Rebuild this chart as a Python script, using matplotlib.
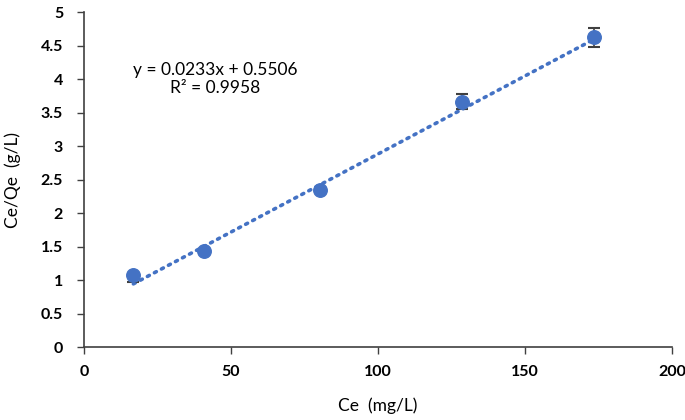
import numpy as np
import matplotlib
matplotlib.use('Agg')
import matplotlib.pyplot as plt

plt.rcParams['font.family'] = ['Lato', 'DejaVu Sans']

ce = [16.8, 40.9, 80.3, 128.6, 173.5]
ce_qe = [1.07, 1.43, 2.35, 3.66, 4.62]
err_low = [0.10, 0.03, 0.03, 0.11, 0.137]
err_high = [0.04, 0.03, 0.03, 0.11, 0.137]
slope = 0.0233
intercept = 0.5506
r2 = 0.9958

blue = '#4472C4'

fig = plt.figure(figsize=(6.85, 4.2), dpi=100)
ax = fig.add_axes([0.1226, 0.1738, 0.8584, 0.7976])

xs = np.array([min(ce), max(ce)])
ax.plot(xs, slope * xs + intercept, color=blue, linestyle=(0, (0.6, 1.6)),
        linewidth=2.6, dash_capstyle='round', zorder=2)
ax.errorbar(ce, ce_qe, yerr=[err_low, err_high], fmt='none', ecolor='#404040',
            elinewidth=1.2, capsize=4, capthick=1.5, zorder=3)
ax.scatter(ce, ce_qe, s=95, color=blue, zorder=4)

ax.text(44.6, 4.0, 'y = 0.0233x + 0.5506\nR² = 0.9958', ha='center', va='center',
        fontsize=12.5, multialignment='center', linespacing=1.15)

ax.set_xlim(0, 200)
ax.set_ylim(0, 5)
ax.set_xticks([0, 50, 100, 150, 200])
ax.set_yticks(np.arange(0, 5.01, 0.5))
ax.set_yticklabels(['0', '0.5', '1', '1.5', '2', '2.5', '3', '3.5', '4', '4.5', '5'])
for lab in ax.get_xticklabels() + ax.get_yticklabels():
    lab.set_fontweight('bold')
    lab.set_fontsize(11.5)
ax.tick_params(direction='out', length=5, width=1, color='#404040')
ax.tick_params(axis='y', pad=10)
ax.tick_params(axis='x', pad=8)
for side in ['top', 'right']:
    ax.spines[side].set_visible(False)
for side in ['left', 'bottom']:
    ax.spines[side].set_color('#404040')
    ax.spines[side].set_linewidth(1.2)

ax.set_xlabel('Ce  (mg/L)', fontsize=12.5, labelpad=13)
ax.set_ylabel('Ce/Qe  (g/L)', fontsize=12.5, labelpad=14)

fig.savefig('out.png', dpi=100)
